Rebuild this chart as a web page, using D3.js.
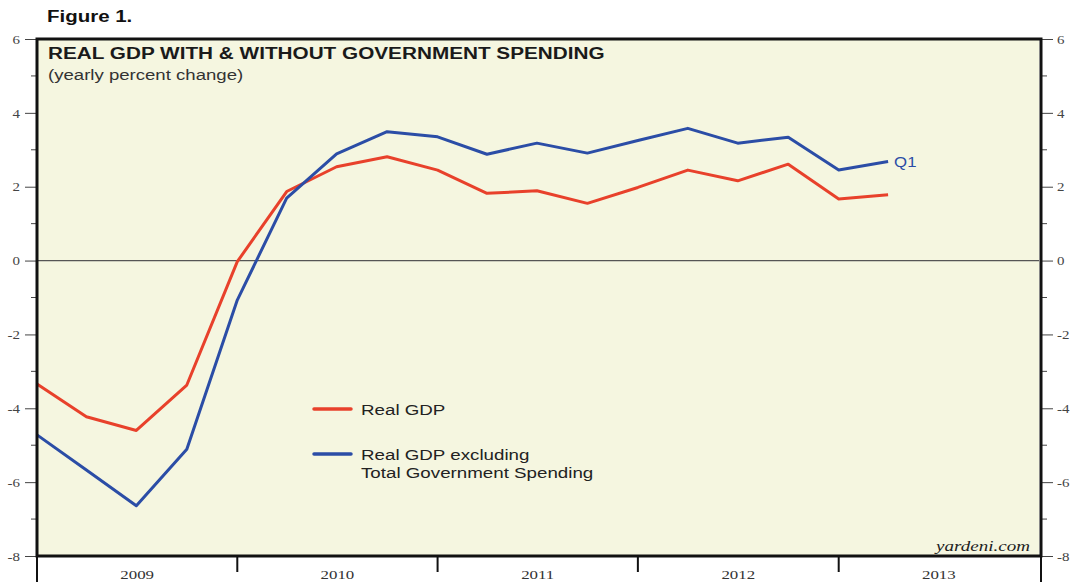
<!DOCTYPE html>
<html>
<head>
<meta charset="utf-8">
<script src="https://cdn.jsdelivr.net/npm/d3@7"></script>
<style>
  body { margin: 0; background: #fff; }
  svg { display: block; }
</style>
</head>
<body>
<div id="chart"></div>
<script>
// =============================================================
// DATA (yearly percent change, quarterly, plotted at quarter end)

let quarterEnds = [ '2009-01-01', '2009-04-01', '2009-07-01', '2009-10-01',
                    '2010-01-01', '2010-04-01', '2010-07-01', '2010-10-01',
                    '2011-01-01', '2011-04-01', '2011-07-01', '2011-10-01',
                    '2012-01-01', '2012-04-01', '2012-07-01', '2012-10-01',
                    '2013-01-01', '2013-04-01' ];
let realGdp  = [ -3.34, -4.23, -4.6, -3.37, -0.03, 1.87, 2.54, 2.81, 2.45,
                  1.82,  1.89, 1.55,  1.98,  2.45, 2.16, 2.61, 1.67, 1.78 ];
let gdpExGov = [ -4.72, -5.67, -6.64, -5.11, -1.07, 1.69, 2.89, 3.49, 3.35,
                  2.88,  3.18, 2.91,  3.25,  3.58, 3.18, 3.34, 2.45, 2.68 ];
let years    = [ '2009', '2010', '2011', '2012', '2013' ];
let yTicks   = [ 6, 4, 2, 0, -2, -4, -6, -8 ];

// =============================================================
// SETUP

let svg_width = 1073, svg_height = 582;
let plot_left = 37, plot_right = 1039, plot_top = 39, plot_bottom = 556;
let red = '#e8412b', blue = '#2b4da6';
let serif = "'Liberation Serif', 'Times New Roman', serif";
let sans  = "'Liberation Sans', Arial, Helvetica, sans-serif";
let stretch_x = 1.25;   // the original type is set wide

function stretch(sel, sx) {
// widen text horizontally around its anchor point
    sel.each(function () {
        let t = d3.select(this);
        let x = +t.attr('x') || 0;
        let y = +t.attr('y') || 0;
        t.attr('x', 0).attr('y', 0)
         .attr('transform', 'translate(' + x + ',' + y + ') scale(' + sx + ',1)');
    });
    return sel;
}

let parse = d3.timeParse('%Y-%m-%d');
let dates = quarterEnds.map(parse);

let x_scale = d3.scaleTime()
                .domain([ parse('2009-01-01'), parse('2014-01-01') ])
                .range([ plot_left, plot_right ]);
let y_scale = d3.scaleLinear()
                .domain([ -8, 6 ])
                .range([ plot_bottom, plot_top ]);

let svg = d3.select('#chart')
            .append('svg')
            .attr('width', svg_width)
            .attr('height', svg_height);

// plot background
svg.append('rect')
   .attr('x', plot_left).attr('y', plot_top)
   .attr('width', plot_right - plot_left).attr('height', plot_bottom - plot_top)
   .attr('fill', '#f5f6e0');

// figure label
svg.append('text')
   .attr('x', 47).attr('y', 22)
   .attr('font-family', sans).attr('font-weight', 'bold')
   .attr('font-size', 16).attr('fill', '#111')
   .text('Figure 1.')
   .call(stretch, 1.28);

// =============================================================
// AXES

let minor = d3.range(-7, 6, 2);

let axisLeft = d3.axisLeft(y_scale).tickValues(yTicks).tickSize(12).tickPadding(5);
let gl = svg.append('g')
            .attr('transform', 'translate(' + plot_left + ',0)')
            .call(axisLeft)
            .call(g => g.select('.domain').remove());
gl.selectAll('line.minor')
  .data(minor).enter()
  .append('line')
  .attr('class', 'minor')
  .attr('x1', -6).attr('x2', 0)
  .attr('y1', d => y_scale(d)).attr('y2', d => y_scale(d))
  .attr('stroke', '#444');

let axisRight = d3.axisRight(y_scale).tickValues(yTicks).tickSize(12).tickPadding(4);
let gr = svg.append('g')
            .attr('transform', 'translate(' + (plot_right + 2) + ',0)')
            .call(axisRight)
            .call(g => g.select('.domain').remove());
gr.selectAll('line.minor')
  .data(minor).enter()
  .append('line')
  .attr('class', 'minor')
  .attr('x1', 0).attr('x2', 6)
  .attr('y1', d => y_scale(d)).attr('y2', d => y_scale(d))
  .attr('stroke', '#444');

[gl, gr].forEach(g => {
    g.selectAll('.tick line').attr('stroke', '#444');
    g.selectAll('.tick text')
     .attr('font-family', serif).attr('font-size', 13).attr('fill', '#444')
     .text(d => d)
     .call(stretch, 1.15);
});

// year ticks & labels along the bottom
let yearDates = d3.range(2009, 2015).map(y => parse(y + '-01-01'));
svg.append('g')
   .selectAll('line')
   .data(yearDates).enter()
   .append('line')
   .attr('x1', (d, i) => i === yearDates.length - 1 ? plot_right + 2 : x_scale(d))
   .attr('x2', (d, i) => i === yearDates.length - 1 ? plot_right + 2 : x_scale(d))
   .attr('y1', plot_bottom)
   .attr('y2', (d, i) => (i === 0 || i === yearDates.length - 1) ? 582 : 572)
   .attr('stroke', '#111').attr('stroke-width', 2);

svg.append('g')
   .selectAll('text')
   .data(years).enter()
   .append('text')
   .attr('x', (d, i) => (x_scale(yearDates[i]) + x_scale(yearDates[i + 1])) / 2)
   .attr('y', 579)
   .attr('text-anchor', 'middle')
   .attr('font-family', serif).attr('font-size', 13.5).attr('fill', '#333')
   .text(d => d)
   .call(stretch, stretch_x);

// zero line
svg.append('line')
   .attr('x1', plot_left).attr('x2', plot_right)
   .attr('y1', y_scale(0)).attr('y2', y_scale(0))
   .attr('stroke', '#555').attr('stroke-width', 1.2);

// =============================================================
// LINES

let line = d3.line()
             .x((d, i) => x_scale(dates[i]))
             .y(d => y_scale(d));

svg.append('path')
   .datum(realGdp)
   .attr('d', line)
   .attr('fill', 'none').attr('stroke', red).attr('stroke-width', 3)
   .attr('stroke-linejoin', 'round');

svg.append('path')
   .datum(gdpExGov)
   .attr('d', line)
   .attr('fill', 'none').attr('stroke', blue).attr('stroke-width', 3)
   .attr('stroke-linejoin', 'round');

// Q1 label at last point
let last = dates.length - 1;
svg.append('text')
   .attr('x', x_scale(dates[last]) + 6)
   .attr('y', y_scale(gdpExGov[last]) + 5)
   .attr('font-family', sans).attr('font-size', 14).attr('fill', blue)
   .text('Q1')
   .call(stretch, 1.2);

// frame on top
svg.append('rect')
   .attr('x', plot_left).attr('y', plot_top)
   .attr('width', plot_right - plot_left + 2).attr('height', plot_bottom - plot_top)
   .attr('fill', 'none').attr('stroke', '#111').attr('stroke-width', 3);

// titles
svg.append('text')
   .attr('x', 48).attr('y', 59)
   .attr('font-family', sans).attr('font-weight', 'bold')
   .attr('font-size', 17).attr('fill', '#1a1a1a')
   .text('REAL GDP WITH & WITHOUT GOVERNMENT SPENDING')
   .call(stretch, 1.22);
svg.append('text')
   .attr('x', 48).attr('y', 80)
   .attr('font-family', sans).attr('font-size', 15).attr('fill', '#333')
   .text('(yearly percent change)')
   .call(stretch, 1.24);

// legend
let legend = [
    { colour: red,  y: 409, lines: [ 'Real GDP' ] },
    { colour: blue, y: 454, lines: [ 'Real GDP excluding', 'Total Government Spending' ] }
];
legend.forEach(l => {
    svg.append('line')
       .attr('x1', 314).attr('x2', 351)
       .attr('y1', l.y).attr('y2', l.y)
       .attr('stroke', l.colour).attr('stroke-width', 3.5)
       .attr('stroke-linecap', 'round');
    l.lines.forEach((t, i) => {
        svg.append('text')
           .attr('x', 361).attr('y', l.y + 6 + i * 18)
           .attr('font-family', sans).attr('font-size', 15).attr('fill', '#222')
           .text(t)
           .call(stretch, stretch_x);
    });
});

// source
svg.append('text')
   .attr('x', 1030).attr('y', 551)
   .attr('text-anchor', 'end')
   .attr('font-family', serif).attr('font-style', 'italic')
   .attr('font-size', 15).attr('fill', '#222')
   .text('yardeni.com')
   .call(stretch, 1.27);
</script>
</body>
</html>
